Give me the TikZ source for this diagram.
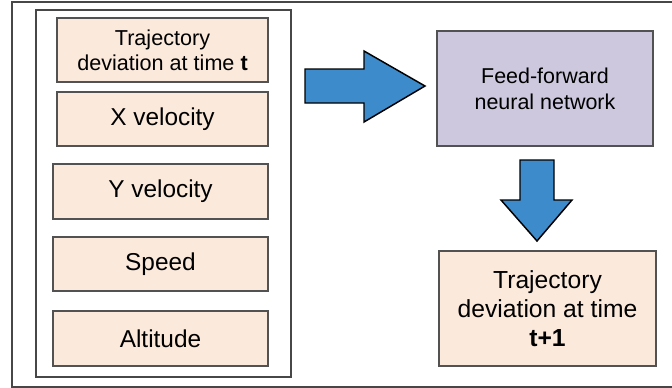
\documentclass[tikz,border=0pt]{standalone}
\usepackage{fontspec}
\setmainfont{Liberation Sans}
\begin{document}
\begin{tikzpicture}[x=0.75pt,y=-0.75pt,
  frame/.style={draw=black!72,line width=1.6pt},
  feature/.style={draw=black!68,line width=1.1pt,fill=peach,inner sep=0pt,align=center},
  netbox/.style={draw=black!68,line width=1.1pt,fill=lavender,inner sep=0pt,align=center},
  blockarrow/.style={draw=black,line width=1.1pt,fill=arrowblue,line join=miter}]
\definecolor{peach}{HTML}{FBE9DB}
\definecolor{lavender}{HTML}{CDC8DE}
\definecolor{arrowblue}{HTML}{3D8BCA}
\useasboundingbox (0,0) rectangle (672,387);
\clip (0,0) rectangle (672,387);

% outer and inner frames
\node[frame,minimum width=670pt*0.75,minimum height=384.5pt*0.75,anchor=north west] (outer) at (10.5,1) {};
\node[frame,line width=1.3pt,minimum width=255pt*0.75,minimum height=367pt*0.75,anchor=north west] (inputs) at (35,9) {};

% input features
\node[feature,minimum width=211pt*0.75,minimum height=64pt*0.75,font=\fontsize{16.2pt}{18.8pt}\selectfont] (traj) at (162.5,50) {Trajectory\\deviation at time \textbf{t}};
\node[feature,minimum width=211pt*0.75,minimum height=54pt*0.75,font=\fontsize{18.3pt}{21pt}\selectfont] (xvel) at (162.5,119) {X velocity};
\node[feature,minimum width=215pt*0.75,minimum height=55pt*0.75,font=\fontsize{18.3pt}{21pt}\selectfont] (yvel) at (160.5,191.5) {Y velocity};
\node[feature,minimum width=215pt*0.75,minimum height=54pt*0.75,font=\fontsize{18.3pt}{21pt}\selectfont] (speed) at (160.5,264) {Speed};
\node[feature,minimum width=215pt*0.75,minimum height=55pt*0.75,font=\fontsize{18.3pt}{21pt}\selectfont] (alt) at (160.5,338.5) {Altitude};

% network and output
\node[netbox,minimum width=216pt*0.75,minimum height=115pt*0.75,font=\fontsize{16.1pt}{19.4pt}\selectfont] (net) at (545,88.5) {Feed-forward\\neural network};
\node[feature,minimum width=217pt*0.75,minimum height=115pt*0.75,font=\fontsize{18.5pt}{21.6pt}\selectfont] (out) at (547.5,308.5) {Trajectory\\deviation at time\\\textbf{t+1}};

% block arrows: inputs -> network, network -> output
\draw[blockarrow] (305,69) -- (364,69) -- (364,51) -- (425,86) -- (364,122) -- (364,103) -- (305,103) -- cycle;
\draw[blockarrow] (520,160) -- (520,200) -- (501,200) -- (537,241) -- (572,200) -- (554,200) -- (554,160) -- cycle;
\end{tikzpicture}
\end{document}
